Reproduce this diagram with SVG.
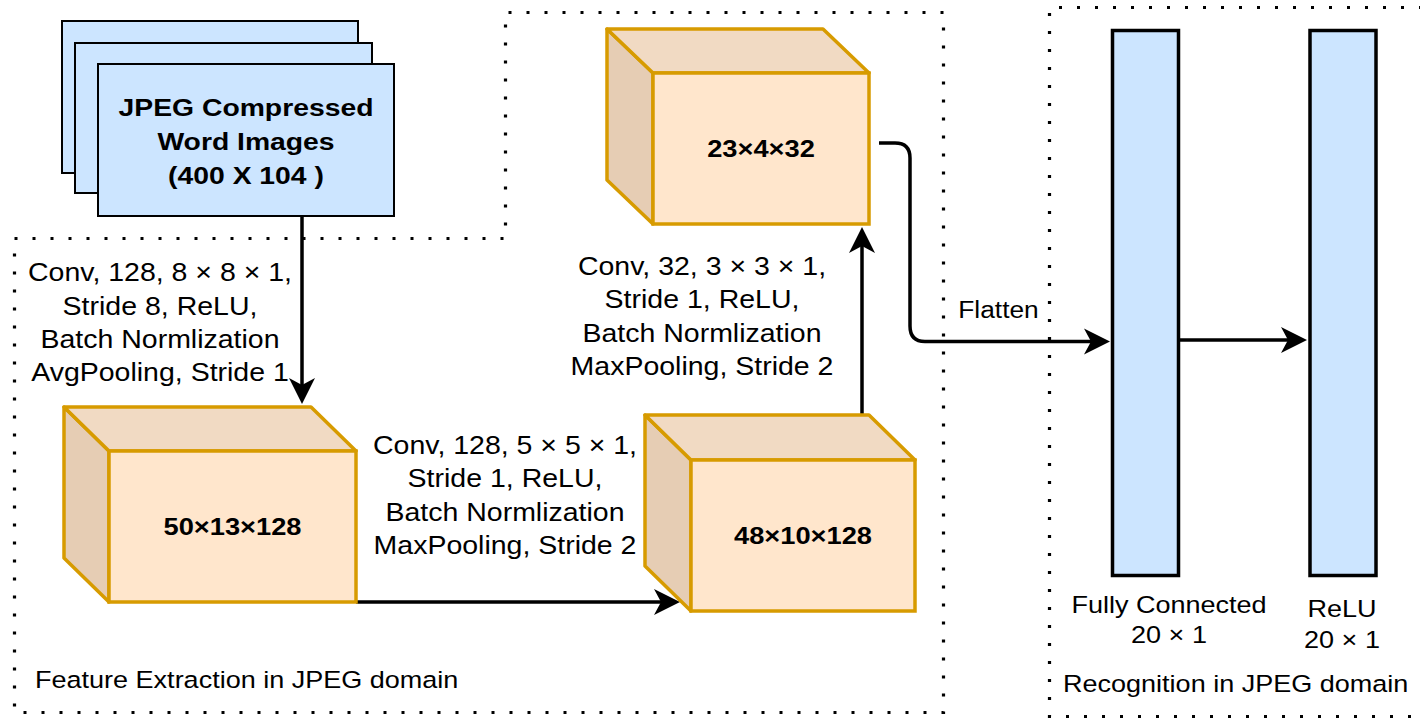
<svg xmlns="http://www.w3.org/2000/svg" width="1420" height="719" viewBox="0 0 1420 719">
<style>
.dot{fill:none;stroke:#000;stroke-width:3.2;stroke-dasharray:3 15}
.img{fill:#cce5ff;stroke:#000;stroke-width:2}
.bar{fill:#cce5ff;stroke:#000;stroke-width:3.5}
.cf{fill:#ffe6cc;stroke:#d79b00;stroke-width:3.5}
.ct{fill:#f1dac3;stroke:#d79b00;stroke-width:3.5;stroke-linejoin:round}
.cs{fill:#e6cdb4;stroke:#d79b00;stroke-width:3.5;stroke-linejoin:round}
.conn{fill:none;stroke:#000;stroke-width:3.5}
.t{font-family:"Liberation Sans",Arial,sans-serif;font-size:25px;fill:#000;text-anchor:middle}
.s{font-family:"Liberation Sans",Arial,sans-serif;font-size:23.5px;fill:#000}
.b{font-family:"Liberation Sans",Arial,sans-serif;font-weight:bold;fill:#000;text-anchor:middle}
</style>
<defs>
<marker id="arr" markerUnits="userSpaceOnUse" viewBox="-30 -16 32 32" markerWidth="32" markerHeight="32" refX="-10" refY="0" orient="auto">
<path d="M0,0 L-26,-13 L-19,0 L-26,13 Z" fill="#000"/>
</marker>
</defs>
<rect width="1420" height="719" fill="#fff"/>

<g id="regions">
<path class="dot" d="M14.5,238.5 H505.5 V12.5 H943.5 V712.5 H14.5 Z"/>
<path class="dot" d="M1422,7.5 H1049.5 V716.5 H1422"/>
<g transform="translate(35 0) scale(1.15 1)"><text class="s" x="0" y="688">Feature Extraction in JPEG domain</text></g>
<g transform="translate(1063 0) scale(1.15 1)"><text class="s" x="0" y="692">Recognition in JPEG domain</text></g>
</g>

<g id="connectors">
<path class="conn" d="M302,216 V394" marker-end="url(#arr)"/>
<path class="conn" d="M356,602 H670" marker-end="url(#arr)"/>
<path class="conn" d="M862,415 V237" marker-end="url(#arr)"/>
<path class="conn" d="M879,143 H895 Q910,143 910,158 V326 Q910,341.5 925,341.5 H1100" marker-end="url(#arr)"/>
<path class="conn" d="M1180,340 H1297" marker-end="url(#arr)"/>
<g transform="translate(998.5 0) scale(1.12 1)"><text class="s" x="0" y="318" text-anchor="middle">Flatten</text></g>
<g transform="translate(160 0) scale(1.14 1)">
<text class="t" x="0" y="281">Conv, 128, 8 × 8 × 1,</text>
<text class="t" x="0" y="314.5">Stride 8, ReLU,</text>
<text class="t" x="0" y="348">Batch Normlization</text>
<text class="t" x="0" y="381.5">AvgPooling, Stride 1</text>
</g>
<g transform="translate(505 0) scale(1.14 1)">
<text class="t" x="0" y="454">Conv, 128, 5 × 5 × 1,</text>
<text class="t" x="0" y="487.5">Stride 1, ReLU,</text>
<text class="t" x="0" y="521">Batch Normlization</text>
<text class="t" x="0" y="554.5">MaxPooling, Stride 2</text>
</g>
<g transform="translate(702 0) scale(1.14 1)">
<text class="t" x="0" y="275">Conv, 32, 3 × 3 × 1,</text>
<text class="t" x="0" y="308.5">Stride 1, ReLU,</text>
<text class="t" x="0" y="342">Batch Normlization</text>
<text class="t" x="0" y="375.5">MaxPooling, Stride 2</text>
</g>
</g>

<g id="input-images">
<rect class="img" x="62" y="21" width="296" height="152"/>
<rect class="img" x="75" y="43" width="297" height="150"/>
<rect class="img" x="98" y="64" width="296" height="152"/>
<g transform="translate(246 0) scale(1.18 1)">
<text class="b" x="0" y="116" font-size="24">JPEG Compressed</text>
<text class="b" x="0" y="150" font-size="24">Word Images</text>
<text class="b" x="0" y="184" font-size="24">(400 X 104 )</text>
</g>
</g>

<g id="cube1">
<polygon class="cs" points="64,407 109,451 109,602 64,558"/>
<polygon class="ct" points="64,407 311,407 356,451 109,451"/>
<rect class="cf" x="109" y="451" width="247" height="151"/>
<g transform="translate(232.5 0) scale(1.16 1)"><text class="b" x="0" y="535" font-size="23.5">50×13×128</text></g>
</g>

<g id="cube2">
<polygon class="cs" points="645,415 691,460 691,611 645,566"/>
<polygon class="ct" points="645,415 869,415 915,460 691,460"/>
<rect class="cf" x="691" y="460" width="224" height="151"/>
<g transform="translate(803 0) scale(1.16 1)"><text class="b" x="0" y="544" font-size="23.5">48×10×128</text></g>
</g>

<g id="cube3">
<polygon class="cs" points="607,29 653,73 653,224 607,180"/>
<polygon class="ct" points="607,29 823,29 869,73 653,73"/>
<rect class="cf" x="653" y="73" width="216" height="151"/>
<g transform="translate(761 0) scale(1.16 1)"><text class="b" x="0" y="157" font-size="23.5">23×4×32</text></g>
</g>

<g id="fully-connected">
<rect class="bar" x="1112.5" y="30.5" width="66" height="545"/>
<g transform="translate(1169 0) scale(1.15 1)">
<text class="s" x="0" y="613" text-anchor="middle">Fully Connected</text>
<text class="s" x="0" y="643" text-anchor="middle">20 × 1</text>
</g>
</g>

<g id="relu">
<rect class="bar" x="1310" y="30.5" width="66" height="545"/>
<g transform="translate(1342 0) scale(1.15 1)">
<text class="s" x="0" y="617" text-anchor="middle">ReLU</text>
<text class="s" x="0" y="648" text-anchor="middle">20 × 1</text>
</g>
</g>
</svg>
